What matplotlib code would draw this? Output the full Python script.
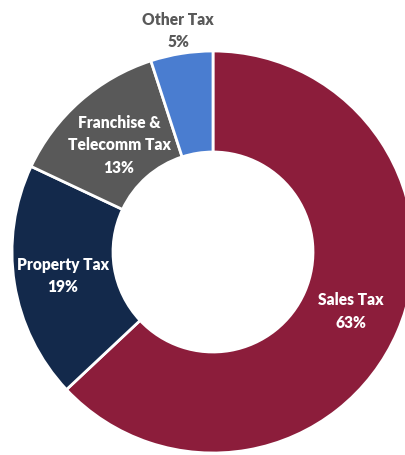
import matplotlib
matplotlib.use("Agg")
import matplotlib.pyplot as plt
import numpy as np

# revenue shares, clockwise from 12 o'clock
labels = ["Sales Tax", "Property Tax", "Franchise &\nTelecomm Tax", "Other Tax"]
shares = [63, 19, 13, 5]
colors = ["#8c1d3b", "#13294b", "#595959", "#4a7dd0"]

plt.rcParams["font.family"] = ["Lato", "DejaVu Sans"]

fig = plt.figure(figsize=(4.06, 4.55), dpi=100)
ax = fig.add_axes([0, 0, 1, 1])

R = 201
wedges, _ = ax.pie(shares, colors=colors, startangle=90, counterclock=False,
                   radius=R, center=(0, 0),
                   wedgeprops=dict(width=101, edgecolor="white", linewidth=2))

# label radius for each slice (last one sits outside the ring)
label_r = [150, 152, 142, 224]
for w, lab, s, r in zip(wedges, labels, shares, label_r):
    ang = np.deg2rad((w.theta1 + w.theta2) / 2)
    col = "#595959" if r > R else "white"
    ax.text(r * np.cos(ang), r * np.sin(ang), f"{lab}\n{s}%",
            ha="center", va="center", color=col, fontsize=11.2,
            fontweight="heavy", linespacing=1.5)

ax.set_xlim(-213, 193)
ax.set_ylim(-203, 252)
ax.set_aspect("equal")
ax.axis("off")

fig.savefig("out.png", dpi=100)
